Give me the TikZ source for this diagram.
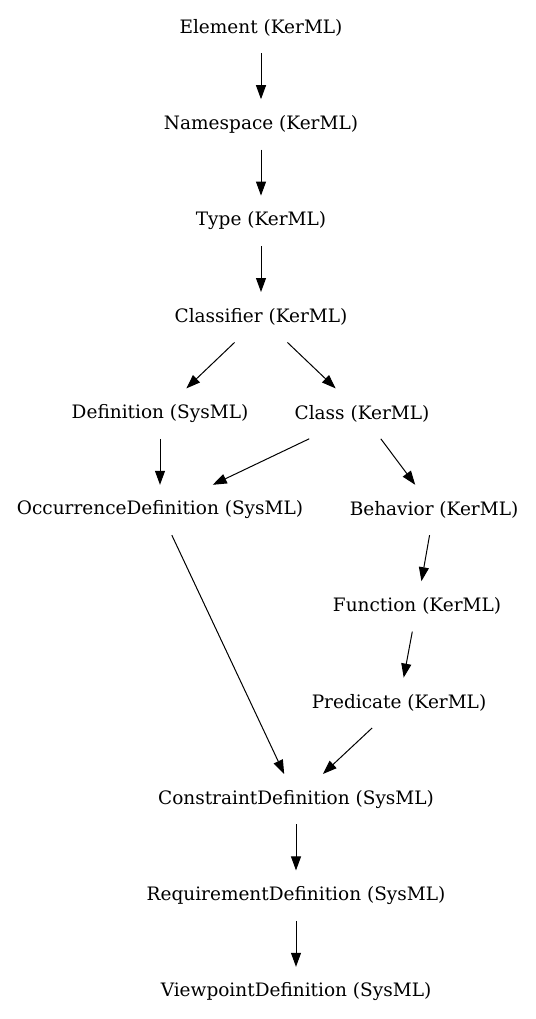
\documentclass[tikz,border=0pt]{standalone}
\usepackage{tikz}
\usepackage{fontspec}
\setmainfont{DejaVu Serif}
\usetikzlibrary{positioning, arrows.meta}

\begin{document}
\begin{tikzpicture}

					\tikzstyle{elem}=[minimum height=50pt, inner sep=0, font=\fontsize{18.5}{22}\selectfont];
					\tikzstyle{gen}=[-{Triangle[length=14pt, width=10pt]}, line width=1pt];

					\useasboundingbox (0pt,0pt) rectangle (535pt,-1019pt);

					\node (element) [elem] at (261pt,-28pt) {Element (KerML)};
					\node (namespace) [elem, below=46pt of element] {Namespace (KerML)};
					\node (type) [elem, below=46pt of namespace] {Type (KerML)};
					\node (classifier) [elem, below=46pt of type] {Classifier (KerML)};
					\node (definition) [elem, below=46pt of classifier, xshift=-101pt] {Definition (SysML)};
					\node (class) [elem, below=46pt of classifier, xshift=101pt] {Class (KerML)};
					\node (occurrence def) [elem, below=46pt of definition] {OccurrenceDefinition (SysML)};
					\node (behavior) [elem, below=46pt of class, xshift=72pt] {Behavior (KerML)};
					\node (function) [elem, below=46pt of behavior, xshift=-17pt] {Function (KerML)};
					\node (predicate) [elem, below=46pt of function, xshift=-18pt] {Predicate (KerML)};
					\node (constraint def) [elem, below=46pt of predicate, xshift=-103pt] {ConstraintDefinition (SysML)};
					\node (requirement def) [elem, below=46pt of constraint def] {RequirementDefinition (SysML)};
					\node (viewpoint def) [elem, below=46pt of requirement def] {ViewpointDefinition (SysML)};

					\draw [gen] (element) -- (namespace);
					\draw [gen] (namespace) -- (type);
					\draw [gen] (type) -- (classifier);
					\draw [gen] (classifier) -- (definition);
					\draw [gen] (classifier) -- (class);
					\draw [gen] (definition) -- (occurrence def);
					\draw [gen] (class) -- (occurrence def);
					\draw [gen] (class) -- (behavior);
					\draw [gen] (behavior) -- (function);
					\draw [gen] (function) -- (predicate);
					\draw [gen] (occurrence def) -- (constraint def);
					\draw [gen] (predicate) -- (constraint def);
					\draw [gen] (constraint def) -- (requirement def);
					\draw [gen] (requirement def) -- (viewpoint def);

				\end{tikzpicture}
\end{document}
